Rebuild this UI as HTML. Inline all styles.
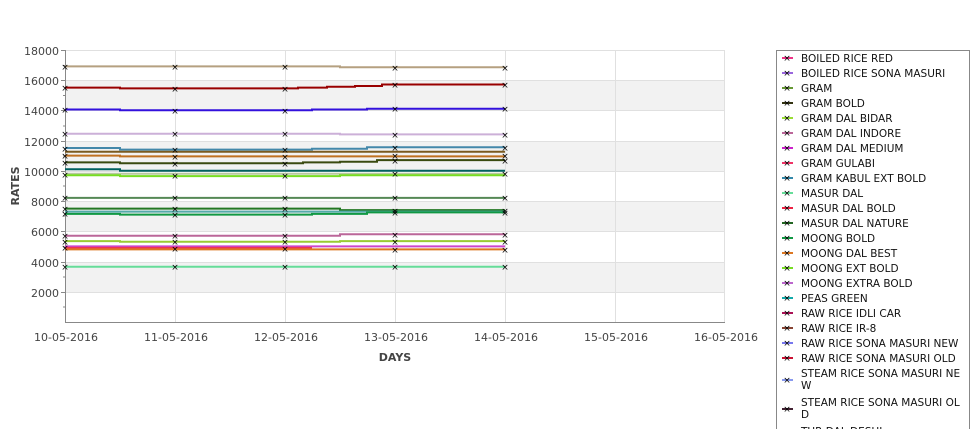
<!DOCTYPE html>
<html><head><meta charset="utf-8"><style>
body{margin:0;background:#fff;width:975px;height:429px;overflow:hidden;font-family:"DejaVu Sans","Liberation Sans",sans-serif}
</style></head><body>
<svg width="975" height="429" xmlns="http://www.w3.org/2000/svg" style="position:absolute;left:0;top:0">
<g fill="#f2f2f2">
<rect x="65" y="80" width="660" height="30"/>
<rect x="65" y="141" width="660" height="30"/>
<rect x="65" y="201" width="660" height="30"/>
<rect x="65" y="262" width="660" height="30"/>
</g>
<g stroke="#e0e0e0" stroke-width="1">
<line x1="65" y1="50.5" x2="725" y2="50.5"/><line x1="65" y1="80.5" x2="725" y2="80.5"/>
<line x1="65" y1="110.5" x2="725" y2="110.5"/><line x1="65" y1="141.5" x2="725" y2="141.5"/>
<line x1="65" y1="171.5" x2="725" y2="171.5"/><line x1="65" y1="201.5" x2="725" y2="201.5"/>
<line x1="65" y1="231.5" x2="725" y2="231.5"/><line x1="65" y1="262.5" x2="725" y2="262.5"/>
<line x1="65" y1="292.5" x2="725" y2="292.5"/>
<line x1="175.5" y1="50" x2="175.5" y2="322"/><line x1="285.5" y1="50" x2="285.5" y2="322"/>
<line x1="395.5" y1="50" x2="395.5" y2="322"/><line x1="505.5" y1="50" x2="505.5" y2="322"/>
<line x1="615.5" y1="50" x2="615.5" y2="322"/><line x1="724.5" y1="50" x2="724.5" y2="322"/>
</g>
<g stroke="#888" stroke-width="1">
<line x1="65.5" y1="50" x2="65.5" y2="323"/><line x1="65" y1="322.5" x2="725" y2="322.5"/>
<line x1="61" y1="50.5" x2="65" y2="50.5"/><line x1="61" y1="80.5" x2="65" y2="80.5"/><line x1="61" y1="110.5" x2="65" y2="110.5"/><line x1="61" y1="141.5" x2="65" y2="141.5"/><line x1="61" y1="171.5" x2="65" y2="171.5"/><line x1="61" y1="201.5" x2="65" y2="201.5"/><line x1="61" y1="231.5" x2="65" y2="231.5"/><line x1="61" y1="262.5" x2="65" y2="262.5"/><line x1="61" y1="292.5" x2="65" y2="292.5"/>
<line x1="63" y1="65.5" x2="65" y2="65.5"/><line x1="63" y1="95.5" x2="65" y2="95.5"/><line x1="63" y1="126" x2="65" y2="126"/><line x1="63" y1="156" x2="65" y2="156"/><line x1="63" y1="186" x2="65" y2="186"/><line x1="63" y1="216" x2="65" y2="216"/><line x1="63" y1="247" x2="65" y2="247"/><line x1="63" y1="277" x2="65" y2="277"/><line x1="63" y1="307" x2="65" y2="307"/>
</g>
<g font-size="11" fill="#444" text-anchor="end">
<text x="59" y="55">18000</text><text x="59" y="85">16000</text><text x="59" y="115">14000</text><text x="59" y="146">12000</text><text x="59" y="176">10000</text><text x="59" y="206">8000</text><text x="59" y="236">6000</text><text x="59" y="267">4000</text><text x="59" y="297">2000</text>
</g>
<g font-size="11" fill="#444" text-anchor="middle">
<text x="66" y="341">10-05-2016</text><text x="176" y="341">11-05-2016</text><text x="286" y="341">12-05-2016</text><text x="396" y="341">13-05-2016</text><text x="506" y="341">14-05-2016</text><text x="616" y="341">15-05-2016</text><text x="726" y="341">16-05-2016</text>
<text x="395" y="361" font-weight="bold" font-size="11">DAYS</text>
<text transform="translate(19,186) rotate(-90)" font-weight="bold" font-size="11">RATES</text>
</g>
<g fill="none" stroke-width="2">
<polyline stroke="#b5a080" points="65,66.4 340,66.4 340,67.2 505,67.2"/>
<polyline stroke="#990000" points="65,87.6 120,87.6 120,88.4 298,88.4 298,87.6 327,87.6 327,86.8 355,86.8 355,86 382,86 382,84.5 505,84.5"/>
<polyline stroke="#3311dd" points="65,109.5 120,109.5 120,110.3 312,110.3 312,109.5 367,109.5 367,108.7 505,108.7"/>
<polyline stroke="#ccb0d8" points="65,133.7 340,133.7 340,134.4 505,134.4"/>
<polyline stroke="#4488aa" points="65,148 120,148 120,149.6 312,149.6 312,148.8 367,148.8 367,147.3 505,147.3"/>
<polyline stroke="#7a5a20" points="65,151.8 505,151.8"/>
<polyline stroke="#c07020" points="65,155.6 120,155.6 120,156.4 505,156.4"/>
<polyline stroke="#3a4a10" points="65,162.4 120,162.4 120,163.2 303,163.2 303,162.4 340,162.4 340,161.7 377,161.7 377,160.1 505,160.1"/>
<polyline stroke="#006060" points="65,169.2 120,169.2 120,170.8 505,170.8"/>
<polyline stroke="#b8c8a0" points="65,173.8 505,173.8"/>
<polyline stroke="#77dd22" points="65,175.3 120,175.3 120,176.1 340,176.1 340,175.3 505,175.3"/>
<polyline stroke="#558855" points="65,197.9 505,197.9"/>
<polyline stroke="#227722" points="65,208.6 340,208.6 340,210.1 505,210.1"/>
<polyline stroke="#55aaaa" points="65,211.6 505,211.6"/>
<polyline stroke="#119944" points="65,213.9 120,213.9 120,214.6 312,214.6 312,213.9 367,213.9 367,212.4 505,212.4"/>
<polyline stroke="#bb6699" points="65,235.8 340,235.8 340,234.3 505,234.3"/>
<polyline stroke="#99cc33" points="65,241.1 120,241.1 120,241.8 340,241.8 340,241.1 505,241.1"/>
<polyline stroke="#cc44cc" points="65,246.4 505,246.4"/>
<polyline stroke="#ee3355" points="65,247.9 312,247.9"/>
<polyline stroke="#dd7722" points="65,249.4 505,249.4"/>
<polyline stroke="#66dd99" points="65,266.8 505,266.8"/>
</g>
<g font-size="9" fill="#000" text-anchor="middle">
<text x="65" y="70">×</text><text x="175" y="70">×</text><text x="285" y="70">×</text><text x="395" y="71">×</text><text x="505" y="71">×</text>
<text x="65" y="91">×</text><text x="175" y="92">×</text><text x="285" y="92">×</text><text x="395" y="88">×</text><text x="505" y="88">×</text>
<text x="65" y="113">×</text><text x="175" y="114">×</text><text x="285" y="114">×</text><text x="395" y="112">×</text><text x="505" y="112">×</text>
<text x="65" y="137">×</text><text x="175" y="137">×</text><text x="285" y="137">×</text><text x="395" y="138">×</text><text x="505" y="138">×</text>
<text x="65" y="152">×</text><text x="175" y="153">×</text><text x="285" y="153">×</text><text x="395" y="151">×</text><text x="505" y="151">×</text>
<text x="65" y="159">×</text><text x="175" y="160">×</text><text x="285" y="160">×</text><text x="395" y="159">×</text><text x="505" y="159">×</text>
<text x="65" y="166">×</text><text x="175" y="167">×</text><text x="285" y="167">×</text><text x="395" y="164">×</text><text x="505" y="164">×</text>
<text x="65" y="178">×</text><text x="175" y="179">×</text><text x="285" y="179">×</text><text x="395" y="177">×</text><text x="505" y="177">×</text>
<text x="65" y="201">×</text><text x="175" y="201">×</text><text x="285" y="201">×</text><text x="395" y="201">×</text><text x="505" y="201">×</text>
<text x="65" y="212">×</text><text x="175" y="212">×</text><text x="285" y="212">×</text><text x="395" y="214">×</text><text x="505" y="214">×</text>
<text x="65" y="217">×</text><text x="175" y="218">×</text><text x="285" y="218">×</text><text x="395" y="216">×</text><text x="505" y="216">×</text>
<text x="65" y="239">×</text><text x="175" y="239">×</text><text x="285" y="239">×</text><text x="395" y="238">×</text><text x="505" y="238">×</text>
<text x="65" y="245">×</text><text x="175" y="245">×</text><text x="285" y="245">×</text><text x="395" y="245">×</text><text x="505" y="245">×</text>
<text x="65" y="251">×</text><text x="175" y="252">×</text><text x="285" y="252">×</text><text x="395" y="253">×</text><text x="505" y="253">×</text>
<text x="65" y="270">×</text><text x="175" y="270">×</text><text x="285" y="270">×</text><text x="395" y="270">×</text><text x="505" y="270">×</text>
</g>
<rect x="776.5" y="50.5" width="193" height="390" fill="#fff" stroke="#888"/>
<g font-size="10.5" fill="#111">
<text x="801" y="62">BOILED RICE RED</text><text x="801" y="77">BOILED RICE SONA MASURI</text><text x="801" y="92">GRAM</text><text x="801" y="107">GRAM BOLD</text><text x="801" y="122">GRAM DAL BIDAR</text><text x="801" y="137">GRAM DAL INDORE</text><text x="801" y="152">GRAM DAL MEDIUM</text><text x="801" y="167">GRAM GULABI</text><text x="801" y="182">GRAM KABUL EXT BOLD</text><text x="801" y="197">MASUR DAL</text><text x="801" y="212">MASUR DAL BOLD</text><text x="801" y="227">MASUR DAL NATURE</text><text x="801" y="242">MOONG BOLD</text><text x="801" y="257">MOONG DAL BEST</text><text x="801" y="272">MOONG EXT BOLD</text><text x="801" y="287">MOONG EXTRA BOLD</text><text x="801" y="302">PEAS GREEN</text><text x="801" y="317">RAW RICE IDLI CAR</text><text x="801" y="332">RAW RICE IR-8</text><text x="801" y="347">RAW RICE SONA MASURI NEW</text><text x="801" y="362">RAW RICE SONA MASURI OLD</text>
<text x="801" y="377">STEAM RICE SONA MASURI NE</text><text x="801" y="389">W</text>
<text x="801" y="406">STEAM RICE SONA MASURI OL</text><text x="801" y="418">D</text>
<text x="801" y="435">TUR DAL DESHI</text>
</g>
<g stroke-width="2">
<line x1="782" y1="58" x2="793" y2="58" stroke="#ee3388"/><line x1="782" y1="73" x2="793" y2="73" stroke="#9966dd"/><line x1="782" y1="88" x2="793" y2="88" stroke="#669933"/><line x1="782" y1="103" x2="793" y2="103" stroke="#333311"/><line x1="782" y1="118" x2="793" y2="118" stroke="#99dd33"/><line x1="782" y1="133" x2="793" y2="133" stroke="#bb6699"/><line x1="782" y1="148" x2="793" y2="148" stroke="#cc22cc"/><line x1="782" y1="163" x2="793" y2="163" stroke="#ee3366"/><line x1="782" y1="178" x2="793" y2="178" stroke="#3388aa"/><line x1="782" y1="193" x2="793" y2="193" stroke="#66dd99"/><line x1="782" y1="208" x2="793" y2="208" stroke="#ee2244"/><line x1="782" y1="223" x2="793" y2="223" stroke="#226622"/><line x1="782" y1="238" x2="793" y2="238" stroke="#119944"/><line x1="782" y1="253" x2="793" y2="253" stroke="#dd7722"/><line x1="782" y1="268" x2="793" y2="268" stroke="#77dd22"/><line x1="782" y1="283" x2="793" y2="283" stroke="#bb66cc"/><line x1="782" y1="298" x2="793" y2="298" stroke="#11aaaa"/><line x1="782" y1="313" x2="793" y2="313" stroke="#aa1155"/><line x1="782" y1="328" x2="793" y2="328" stroke="#884433"/><line x1="782" y1="343" x2="793" y2="343" stroke="#7777ee"/><line x1="782" y1="358" x2="793" y2="358" stroke="#cc1133"/><line x1="782" y1="380" x2="793" y2="380" stroke="#8899ee"/><line x1="782" y1="409" x2="793" y2="409" stroke="#442233"/>
</g>
<g font-size="9" fill="#000" text-anchor="middle">
<text x="787" y="61">×</text><text x="787" y="76">×</text><text x="787" y="91">×</text><text x="787" y="106">×</text><text x="787" y="121">×</text><text x="787" y="136">×</text><text x="787" y="151">×</text><text x="787" y="166">×</text><text x="787" y="181">×</text><text x="787" y="196">×</text><text x="787" y="211">×</text><text x="787" y="226">×</text><text x="787" y="241">×</text><text x="787" y="256">×</text><text x="787" y="271">×</text><text x="787" y="286">×</text><text x="787" y="301">×</text><text x="787" y="316">×</text><text x="787" y="331">×</text><text x="787" y="346">×</text><text x="787" y="361">×</text><text x="787" y="383">×</text><text x="787" y="412">×</text>
</g>
</svg>
</body></html>
